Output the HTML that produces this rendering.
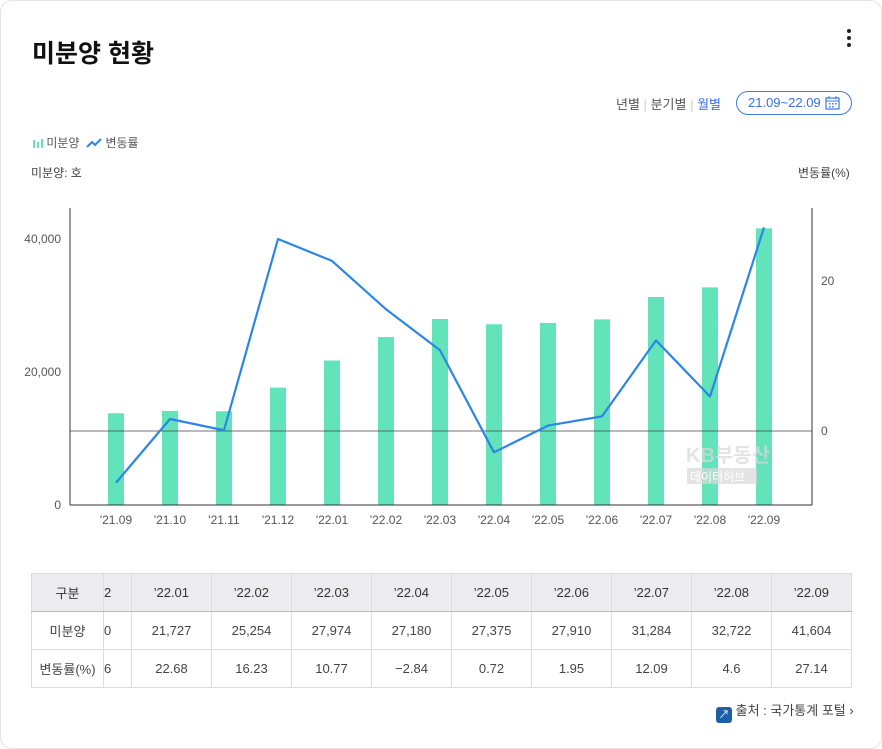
<!DOCTYPE html>
<html><head><meta charset="utf-8"><style>
body{margin:0;background:#fff;font-family:"Liberation Sans","Noto Sans CJK KR",sans-serif;}
.card{position:relative;width:880px;height:747px;border:1px solid #e4e4e4;border-radius:12px;overflow:hidden;background:#fff}
.abs{position:absolute}
table{border-collapse:collapse;position:absolute;left:30px;top:572px;font-size:13px;color:#444}
td{border:1px solid #ddd;text-align:center;height:37px;padding:0;white-space:nowrap;overflow:hidden}
tr.h td{background:#ececee;border-bottom:1px solid #bbb;color:#333}
</style></head><body>
<div class="card">
<div class="abs" style="left:31px;top:33px;font-size:25px;font-weight:bold;color:#111">미분양 현황</div>
<div class="abs" style="left:846px;top:28px;width:4px"><div style="width:4px;height:4px;background:#222;border-radius:2px;margin-bottom:3px"></div><div style="width:4px;height:4px;background:#222;border-radius:2px;margin-bottom:3px"></div><div style="width:4px;height:4px;background:#222;border-radius:2px"></div></div>
<div class="abs" style="left:615px;top:93px;font-size:13px;color:#555"><span>년별</span> <span style="color:#ccc">|</span> <span>분기별</span> <span style="color:#ccc">|</span> <span style="color:#3b6fe0">월별</span></div>
<div class="abs" style="left:735px;top:90px;width:114px;height:22px;border:1px solid #3b7be0;border-radius:12px;font-size:13px;color:#3b6fe0;line-height:22px"><span style="margin-left:11px">21.09~22.09</span>
<svg class="abs" style="left:88px;top:4px" width="15" height="14"><rect x="1" y="2" width="13" height="11" fill="none" stroke="#3b7be0" stroke-width="1.2"/><line x1="1" y1="5" x2="14" y2="5" stroke="#3b7be0"/><line x1="4" y1="0" x2="4" y2="3" stroke="#3b7be0"/><line x1="11" y1="0" x2="11" y2="3" stroke="#3b7be0"/><rect x="4" y="7" width="1.5" height="1.5" fill="#3b7be0"/><rect x="7" y="7" width="1.5" height="1.5" fill="#3b7be0"/><rect x="10" y="7" width="1.5" height="1.5" fill="#3b7be0"/><rect x="4" y="10" width="1.5" height="1.5" fill="#3b7be0"/><rect x="7" y="10" width="1.5" height="1.5" fill="#3b7be0"/></svg></div>
<div class="abs" style="left:32px;top:133px;font-size:12px;color:#555"><span><svg width="10" height="10" style="vertical-align:-1px"><rect x="0" y="2" width="2" height="8" fill="#62e3b9"/><rect x="4" y="4" width="2" height="6" fill="#62e3b9"/><rect x="8" y="1" width="2" height="9" fill="#62e3b9"/></svg> 미분양</span>&nbsp;&nbsp;<span><svg width="16" height="10" style="vertical-align:-1px"><polyline points="1,9 6,4 9,7 15,1" fill="none" stroke="#2b86e6" stroke-width="2"/></svg> 변동률</span></div>
<div class="abs" style="left:30px;top:163px;font-size:12px;color:#444">미분양: 호</div>
<div class="abs" style="left:797px;top:163px;font-size:12px;color:#444">변동률(%)</div>
<svg class="abs" style="left:-1px;top:-1px" width="880" height="560" id="chart"></svg>
<table>
<tr class="h"><td style="width:71px">구분</td><td style="width:27px;text-align:left">2</td><td style="width:79px">'22.01</td><td style="width:79px">'22.02</td><td style="width:79px">'22.03</td><td style="width:79px">'22.04</td><td style="width:79px">'22.05</td><td style="width:79px">'22.06</td><td style="width:79px">'22.07</td><td style="width:79px">'22.08</td><td style="width:79px">'22.09</td></tr>
<tr><td>미분양</td><td style="text-align:left">0</td><td>21,727</td><td>25,254</td><td>27,974</td><td>27,180</td><td>27,375</td><td>27,910</td><td>31,284</td><td>32,722</td><td>41,604</td></tr>
<tr><td>변동률(%)</td><td style="text-align:left">6</td><td>22.68</td><td>16.23</td><td>10.77</td><td>−2.84</td><td>0.72</td><td>1.95</td><td>12.09</td><td>4.6</td><td>27.14</td></tr>
</table>
<div class="abs" style="left:715px;top:699px;font-size:13px;color:#444"><span style="display:inline-block;width:16px;height:16px;background:#1f5fa8;border-radius:3px;vertical-align:-3px;color:#fff;font-size:11px;text-align:center;line-height:16px">↗</span> 출처 : 국가통계 포털 ›</div>
</div>
<script>
const categories=["'21.09","'21.10","'21.11","'21.12","'22.01","'22.02","'22.03","'22.04","'22.05","'22.06","'22.07","'22.08","'22.09"];
const unsold=[13800,14150,14100,17650,21727,25254,27974,27180,27375,27910,31284,32722,41604];
const changeRate=[-6.9,1.6,0.1,25.6,22.68,16.23,10.77,-2.84,0.72,1.95,12.09,4.6,27.14];
const leftTicks=[0,20000,40000];
const leftTickLabels=["0","20,000","40,000"];
const rightTicks=[0,20];
const svg=document.getElementById('chart');const NS='http://www.w3.org/2000/svg';
function yL(v){return 505-v*133/20000;}
function yR(v){return 431-v*7.5;}
function x(i){return 116+i*54;}
function mk(t,a,p){const e=document.createElementNS(NS,t);for(const k in a)e.setAttribute(k,a[k]);(p||svg).appendChild(e);return e;}
categories.forEach((c,i)=>{
 const r=mk('rect',{x:x(i)-8,y:yL(unsold[i]),width:16,height:505-yL(unsold[i]),fill:'#62e3b9'});
 
 
 const t=mk('text',{x:x(i),y:524,'font-size':12,fill:'#555','text-anchor':'middle'});t.textContent=c;
 
 
});
let w=mk('text',{x:686,y:462,'font-size':20,'font-weight':'bold',fill:'#d8d8d8','fill-opacity':0.7});w.textContent='KB부동산';


mk('rect',{x:687,y:468,width:70,height:16,fill:'#d8d8d8','fill-opacity':0.7,rx:2});
let w2=mk('text',{x:690,y:481,'font-size':12,fill:'#fff'});w2.textContent='데이터허브';
mk('line',{x1:70,y1:208,x2:70,y2:505,stroke:'#333'});
mk('line',{x1:812,y1:208,x2:812,y2:505,stroke:'#333'});
mk('line',{x1:70,y1:505,x2:812,y2:505,stroke:'#333'});
mk('line',{x1:70,y1:yR(0),x2:812,y2:yR(0),stroke:'#444','stroke-width':0.8});
leftTicks.forEach((v,i)=>{const t=mk('text',{x:61,y:yL(v)+4,'font-size':12,fill:'#555','text-anchor':'end'});t.textContent=leftTickLabels[i];
 
 });
rightTicks.forEach(v=>{const t=mk('text',{x:821,y:yR(v)+4,'font-size':12,fill:'#555'});t.textContent=v;
 
 });
const pl=mk('polyline',{points:changeRate.map((v,i)=>x(i)+','+yR(v)).join(' '),fill:'none',stroke:'#2b86e6','stroke-width':2.2,'stroke-linejoin':'round'});


</script>
</body></html>
